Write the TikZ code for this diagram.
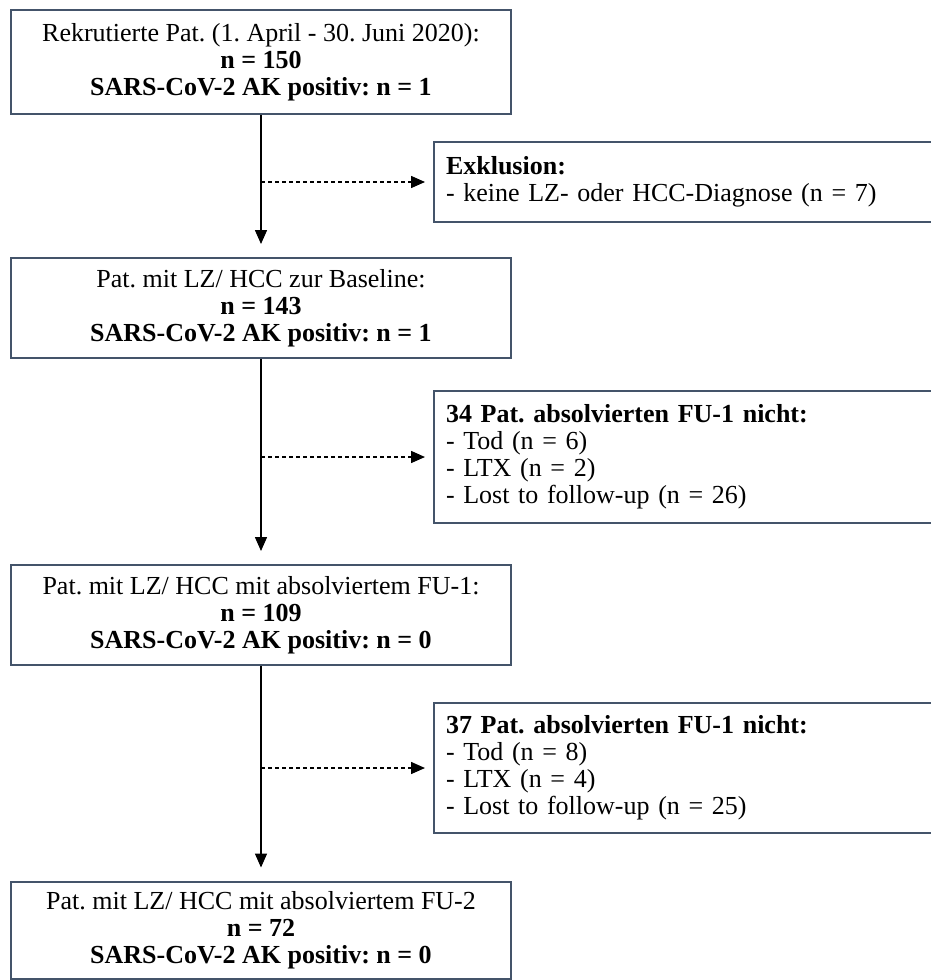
\documentclass[tikz,border=0pt]{standalone}
\usepackage{fontspec}
\setmainfont{Liberation Serif}
\usetikzlibrary{arrows.meta,positioning}
\definecolor{boxrand}{RGB}{68,84,106}
\frenchspacing
\begin{document}
\begin{tikzpicture}[x=1bp,y=-1bp,
  font=\fontsize{26bp}{27bp}\selectfont,
  hauptbox/.style={draw=boxrand,line width=2bp,minimum width=500bp,align=center,inner sep=0pt},
  nebenbox/.style={draw=boxrand,line width=2bp,text width=474bp,inner xsep=12bp,inner ysep=0pt,align=left},
  pfeil/.style={line width=1.5bp,-{Triangle[length=14bp,width=12bp]}},
  ]
\useasboundingbox (0,0) rectangle (931,980);
\node[hauptbox,minimum height=104bp] (rekrut) at (261,62) {Rekrutierte Pat. (1. April - 30. Juni 2020):\\ \textbf{n = 150}\\ \textbf{SARS-CoV-2 AK positiv: n = 1}};
\node[hauptbox,minimum height=100bp] (baseline) at (261,308) {Pat. mit LZ/ HCC zur Baseline:\\ \textbf{n = 143}\\ \textbf{SARS-CoV-2 AK positiv: n = 1}};
\node[hauptbox,minimum height=100bp] (fueins) at (261,615) {Pat. mit LZ/ HCC mit absolviertem FU-1:\\ \textbf{n = 109}\\ \textbf{SARS-CoV-2 AK positiv: n = 0}};
\node[hauptbox,minimum height=97bp] (fuzwei) at (261,930) {Pat. mit LZ/ HCC mit absolviertem FU-2\\ \textbf{n = 72}\\ \textbf{SARS-CoV-2 AK positiv: n = 0}};

\node[nebenbox,minimum height=80bp] (exkl) at (683,182) {\textbf{Exklusion:}\\ - keine LZ- oder HCC-Diagnose (n = 7)};
\node[nebenbox,minimum height=132bp] (dropeins) at (683,457) {\textbf{34 Pat. absolvierten FU-1 nicht:}\\ - Tod (n = 6)\\ - LTX (n = 2)\\ - Lost to follow-up (n = 26)};
\node[nebenbox,minimum height=130bp] (dropzwei) at (683,768) {\textbf{37 Pat. absolvierten FU-1 nicht:}\\ - Tod (n = 8)\\ - LTX (n = 4)\\ - Lost to follow-up (n = 25)};

\draw[pfeil,shorten >=13bp] (rekrut) -- (baseline);
\draw[pfeil,shorten >=13bp] (baseline) -- (fueins);
\draw[pfeil,shorten >=13bp] (fueins) -- (fuzwei);
\draw[pfeil,dash pattern=on 4bp off 3bp,shorten >=8bp] (rekrut.south |- exkl.west) -- (exkl.west);
\draw[pfeil,dash pattern=on 4bp off 3bp,shorten >=8bp] (rekrut.south |- dropeins.west) -- (dropeins.west);
\draw[pfeil,dash pattern=on 4bp off 3bp,shorten >=8bp] (rekrut.south |- dropzwei.west) -- (dropzwei.west);
\end{tikzpicture}
\end{document}
